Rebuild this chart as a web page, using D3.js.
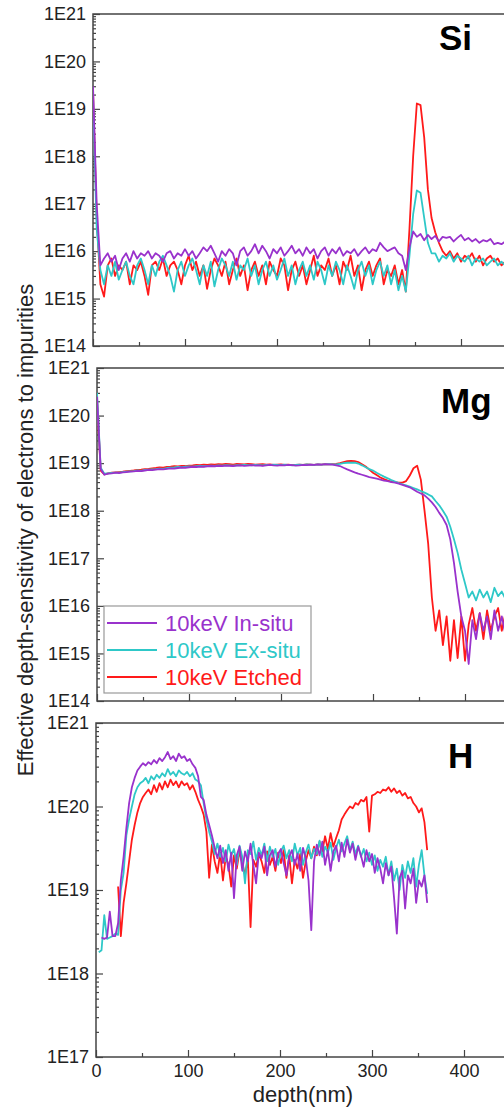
<!DOCTYPE html>
<html>
<head>
<meta charset="utf-8">
<script src="https://cdn.jsdelivr.net/npm/d3@7"></script>
<style>
body{margin:0;background:#fff;overflow:hidden}
svg{display:block;font-family:"Liberation Sans",Arial,sans-serif}
</style>
</head>
<body>
<div id="chart"></div>
<script>
// depth grid (nm) for the Si and Mg profiles
var depthSiMg = [0,4,8,12,16,20,24,28,32,36,
    40,44,48,52,56,60,64,68,72,76,
    80,84,88,92,96,100,104,108,112,116,
    120,124,128,132,136,140,144,148,152,156,
    160,164,168,172,176,180,184,188,192,196,
    200,204,208,212,216,220,224,228,232,236,
    240,244,248,252,256,260,264,268,272,276,
    280,284,288,292,296,300,304,308,312,316,
    320,324,328,332,336,340,344,348,352,356,
    360,364,368,372,376,380,384,388,392,396,
    400,404,408,412,416,420,424,428,432,436,
    440,444,448];

// depth grid (nm) for the H profiles
var depthH = [0,3,6,9,12,15,18,21,24,27,
    30,33,36,39,42,45,48,51,54,57,
    60,63,66,69,72,75,78,81,84,87,
    90,93,96,99,102,105,108,111,114,117,
    120,123,126,129,132,135,138,141,144,147,
    150,153,156,159,162,165,168,171,174,177,
    180,183,186,189,192,195,198,201,204,207,
    210,213,216,219,222,225,228,231,234,237,
    240,243,246,249,252,255,258,261,264,267,
    270,273,276,279,282,285,288,291,294,297,
    300,303,306,309,312,315,318,321,324,327,
    330,333,336,339,342,345,348,351,354,357,
    360];

var siInsitu = [3e19,1e17,5e15,7e15,9e15,6e15,8e15,4e15,7e15,9e15,
    6e15,1e16,7e15,9e15,8e15,1e16,7e15,9e15,8e15,6e15,
    9e15,1e16,7e15,9e15,8e15,1.1e16,8e15,1e16,7e15,9e15,
    1.2e16,1e16,1.3e16,9e15,6e15,1e16,8e15,1.1e16,9e15,5e15,
    1e16,1.2e16,8e15,1e16,1.4e16,9e15,1.3e16,1e16,7e15,1.1e16,
    9e15,1.2e16,8e15,1e16,1.3e16,9e15,1.1e16,8e15,1.2e16,9e15,
    1.1e16,7e15,1e16,1.2e16,8e15,1.1e16,9e15,1.2e16,8e15,1e16,
    9e15,1.1e16,8e15,1e16,1.2e16,9e15,1.1e16,1e16,1.5e16,1.2e16,
    1e16,1.1e16,1.2e16,9e15,8e15,4e15,1.2e16,2.6e16,2e16,2.3e16,
    1.7e16,2.2e16,1.8e16,2.1e16,1.6e16,2e16,1.9e16,2e16,1.6e16,1.9e16,
    2.2e16,1.7e16,1.9e16,1.6e16,1.8e16,1.5e16,1.7e16,1.6e16,1.8e16,1.4e16,
    1.5e16,1.4e16,1.6e16];
var siExsitu = [2e19,3e16,4e15,2e15,5e15,3e15,6e15,2.5e15,4e15,6e15,
    3e15,2e15,5e15,7e15,4e15,2e15,5e15,3e15,6e15,8e15,
    5e15,3e15,1.4e15,4e15,6e15,3e15,5e15,7e15,4e15,2e15,
    5e15,3e15,6e15,1.8e15,4e15,7e15,5e15,3e15,6e15,2.5e15,
    5e15,4e15,7e15,3e15,5e15,2e15,4e15,6e15,3e15,5e15,
    2.5e15,4e15,7e15,3e15,5e15,2e15,4e15,6e15,3e15,5e15,
    2.5e15,6e15,4e15,2e15,5e15,3e15,6e15,4e15,2e15,5e15,
    3e15,1.6e15,4e15,6e15,3e15,5e15,2e15,4e15,6e15,3e15,
    5e15,2e15,4e15,1.5e15,3e15,1.4e15,8e15,6e16,1.9e17,1.7e17,
    5e16,1.5e16,9e15,9e15,6e15,8e15,7e15,9e15,6e15,8e15,
    7e15,6e15,8e15,5e15,7e15,6e15,7e15,5e15,6e15,7e15,
    5e15,6e15,5e15];
var siEtched = [2.5e19,5e16,2e15,1.1e15,5e15,7e15,3e15,5e15,4e15,6e15,
    2e15,5e15,4e15,6e15,3e15,1.2e15,5e15,6e15,4e15,7e15,
    3e15,5e15,6e15,4e15,2e15,5e15,8e15,4e15,6e15,3e15,
    5e15,1.6e15,4e15,7e15,5e15,3e15,6e15,2e15,4e15,7e15,
    3e15,5e15,1.5e15,4e15,6e15,3e15,5e15,2e15,6e15,4e15,
    3e15,7e15,5e15,1.5e15,4e15,6e15,3e15,5e15,2e15,4e15,
    8e15,3e15,5e15,4e15,7e15,3e15,5e15,2e15,6e15,4e15,
    8e15,3e15,5e15,1.5e15,4e15,6e15,3e15,5e15,7e15,2e15,
    4e15,3e15,5e15,2e15,4e15,1.4e15,3e16,1e18,1.3e19,1.2e19,
    2.5e18,2e17,5e16,2.5e16,1.5e16,1e16,8e15,1e16,7e15,9e15,
    6e15,8e15,7e15,9e15,6e15,8e15,5e15,7e15,8e15,6e15,
    7e15,5e15,6e15];

var mgInsitu = [2.5e20,7.5e18,5.7e18,6e18,6.1e18,6.3e18,6.2e18,6.4e18,6.5e18,6.6e18,
    6.7e18,6.9e18,6.8e18,7e18,7.2e18,7.1e18,7.3e18,7.5e18,7.4e18,7.6e18,
    7.8e18,7.7e18,7.9e18,8.1e18,8e18,8.2e18,8.4e18,8.3e18,8.5e18,8.4e18,
    8.6e18,8.7e18,8.6e18,8.8e18,8.7e18,8.9e18,8.8e18,8.7e18,8.9e18,9e18,
    8.8e18,8.9e18,9.1e18,8.9e18,9e18,8.8e18,9e18,9.2e18,9e18,8.9e18,
    9.1e18,9e18,9.2e18,9.1e18,8.9e18,9e18,9.2e18,9.1e18,9.3e18,9.2e18,
    9.4e18,9.3e18,9.5e18,9.4e18,9.3e18,9e18,8.7e18,8e18,7.4e18,6.9e18,
    6.4e18,6e18,5.7e18,5.4e18,5.1e18,4.9e18,4.7e18,4.5e18,4.3e18,4.2e18,
    4e18,3.9e18,3.7e18,3.5e18,3.3e18,3.1e18,2.8e18,2.5e18,2.3e18,2.1e18,
    1.8e18,1.5e18,1.2e18,9e17,7e17,5e17,2.5e17,8e16,2e16,6e15,
    3e15,6e14,5e15,2e15,7e15,3e15,6e15,2e15,8e15,3e15,
    6e15,2.5e15,7e15];
var mgExsitu = [3e20,8e18,6e18,6.1e18,6.2e18,6.3e18,6.3e18,6.5e18,6.6e18,6.7e18,
    6.8e18,7e18,6.9e18,7.2e18,7.3e18,7.4e18,7.5e18,7.7e18,7.6e18,7.9e18,
    8e18,8.1e18,8.3e18,8.2e18,8.4e18,8.5e18,8.4e18,8.6e18,8.7e18,8.6e18,
    8.8e18,8.9e18,8.8e18,9e18,8.9e18,9.1e18,9e18,8.9e18,9.1e18,9e18,
    9.2e18,9.1e18,9e18,9.2e18,9.1e18,9e18,9.2e18,9.1e18,9.3e18,9.2e18,
    9.1e18,9.3e18,9.2e18,9e18,9.2e18,9.3e18,9.2e18,9.4e18,9.3e18,9.2e18,
    9.4e18,9.3e18,9.4e18,9.5e18,9.4e18,9.4e18,9.7e18,1e19,1.02e19,1.03e19,
    1.02e19,9.8e18,9e18,8.2e18,7.5e18,7e18,6.3e18,5.7e18,5.2e18,4.8e18,
    4.4e18,4.1e18,3.8e18,3.6e18,3.4e18,3.2e18,3e18,2.8e18,2.6e18,2.4e18,
    2.2e18,2e18,1.6e18,1.3e18,1e18,7.5e17,4.6e17,2.5e17,1.3e17,5.8e16,
    3e16,1.5e16,2e16,1.3e16,2.2e16,1.5e16,2e16,1.2e16,2.4e16,1.6e16,
    2e16,1.4e16,2.2e16];
var mgEtched = [2.2e20,7e18,5.8e18,6.1e18,6.3e18,6.4e18,6.5e18,6.6e18,6.8e18,6.9e18,
    7e18,7.2e18,7.3e18,7.5e18,7.6e18,7.8e18,7.9e18,8.1e18,8e18,8.3e18,
    8.4e18,8.6e18,8.5e18,8.8e18,8.7e18,8.9e18,9e18,9.2e18,9.1e18,9.3e18,
    9.2e18,9.4e18,9.3e18,9.5e18,9.4e18,9.6e18,9.5e18,9.3e18,9.6e18,9.5e18,
    9.4e18,9.6e18,9.5e18,9.3e18,9.4e18,9.5e18,9.3e18,9.4e18,9.2e18,9.3e18,
    9.4e18,9.2e18,9.3e18,9.1e18,9.2e18,9.3e18,9.2e18,9.4e18,9.3e18,9.2e18,
    9.4e18,9.3e18,9.5e18,9.4e18,9.5e18,9.6e18,1e19,1.05e19,1.1e19,1.12e19,
    1.1e19,1.05e19,9.5e18,8.5e18,7.3e18,6.3e18,5.6e18,5e18,4.6e18,4.3e18,
    4.1e18,4e18,3.9e18,3.9e18,4.2e18,5.5e18,7.8e18,8.8e18,4.5e18,1e18,
    2e17,1.5e16,3e15,8e15,1.5e15,6e15,7e14,5e15,8e14,6e15,
    7e14,4e15,9e15,3e15,7e15,2e15,8e15,3e15,6e15,9e15,
    3e15,7e15,4e15];

var hInsitu = [null,null,2.7e18,2.6e18,2.7e18,5.5e18,2.8e18,2.8e18,4e18,1.3e19,
    2.5e19,5.5e19,1.1e20,1.7e20,2.2e20,2.7e20,3e20,3.3e20,3.1e20,3.4e20,
    3.2e20,3.6e20,3.3e20,3.8e20,3.5e20,3.9e20,4.5e20,3.7e20,4e20,3.5e20,
    4.3e20,3.8e20,4e20,3.5e20,3.7e20,3.2e20,2.9e20,2.3e20,1.3e20,1.2e20,
    8e19,6e19,4.5e19,3.2e19,2.4e19,3.4e19,2.1e19,3e19,1.7e19,2.8e19,
    8e18,2.6e19,3.3e19,1.7e19,2.9e19,2.2e19,3.6e19,2e19,1.2e19,2.8e19,
    2.4e19,3.3e19,1.5e19,2.6e19,3e19,1.9e19,2.7e19,3.1e19,2.1e19,1.5e19,
    2.5e19,3e19,2e19,2.7e19,1.7e19,3.2e19,2.4e19,1.3e19,3.3e18,2.2e19,
    3.5e19,2.6e19,3.8e19,2e19,3e19,1.7e19,2.9e19,3.4e19,2.2e19,3.7e19,
    2.5e19,4e19,2.8e19,3.6e19,2.3e19,3.3e19,2.6e19,1.9e19,3e19,2.2e19,
    2.7e19,1.6e19,2.4e19,1.8e19,1.2e19,2.1e19,1.5e19,1.9e19,8e18,3e18,
    1.4e19,1.7e19,6e18,1.5e19,1.2e19,1.8e19,7e18,1.3e19,1.1e19,1.5e19,
    7e18];
var hExsitu = [null,1.8e18,1.9e18,5e18,2.6e18,2.7e18,2.8e18,3e18,2.9e18,1e19,
    1.6e19,4.5e19,7e19,1e20,1.4e20,1.7e20,1.9e20,2e20,2.2e20,1.9e20,
    2.3e20,2.1e20,2.4e20,2.2e20,2.5e20,2.3e20,2.8e20,2.4e20,2.6e20,2.3e20,
    2.7e20,2.5e20,2.4e20,2.6e20,2.3e20,2.5e20,2.1e20,2e20,1.8e20,1.1e20,
    7e19,5e19,3.8e19,2.7e19,3.6e19,2.5e19,3.2e19,2.2e19,3.5e19,2.6e19,
    3.1e19,2e19,3.4e19,2.5e19,1.2e19,3e19,2.7e19,3.8e19,2.3e19,3.2e19,
    2.6e19,3.6e19,2.2e19,3.3e19,2.5e19,3.1e19,2e19,2.9e19,3.4e19,2.4e19,
    3e19,2.2e19,3.6e19,2.6e19,3.2e19,2e19,2.8e19,3.5e19,2.4e19,3.1e19,
    2.7e19,3.9e19,2.5e19,3.3e19,2.8e19,3.7e19,2.3e19,3.2e19,4e19,2.9e19,
    3.6e19,4.4e19,3e19,3.8e19,2.7e19,3.4e19,2.5e19,3.1e19,2.2e19,2.8e19,
    2e19,2.6e19,1.7e19,2.3e19,1.9e19,2.5e19,1.5e19,2.2e19,1.3e19,1.8e19,
    1e19,2e19,1.4e19,2.2e19,1.6e19,2.4e19,1.1e19,2e19,3e19,1.5e19,
    9e18];
var hEtched = [null,null,null,null,null,null,null,null,1.1e19,2.8e18,
    7e18,1.2e19,2.2e19,4e19,6e19,8.5e19,1.1e20,1.3e20,1.45e20,1.6e20,
    1.4e20,1.8e20,1.5e20,1.9e20,1.6e20,2e20,1.7e20,2.1e20,1.8e20,2e20,
    1.7e20,2e20,1.8e20,1.9e20,1.6e20,1.8e20,1.5e20,1.2e20,1e20,8e19,
    5e19,1.4e19,3.5e19,2.2e19,1.6e19,2.8e19,1.3e19,2.5e19,2e19,1.1e19,
    2.6e19,1.8e19,2.9e19,2.1e19,1.5e19,2.4e19,3.6e18,2.3e19,1.9e19,2.7e19,
    2.2e19,1.6e19,2.9e19,2e19,2.5e19,1.7e19,2.8e19,2.1e19,3e19,1.4e19,
    2.6e19,1.2e19,2.3e19,1.8e19,2.7e19,1.4e19,2.2e19,3e19,2.4e19,3.3e19,
    2.6e19,3.8e19,2.9e19,4.4e19,3.1e19,4.8e19,3.3e19,4.2e19,5.2e19,7e19,
    8e19,9e19,1e20,9.5e19,1.1e20,1.05e20,1.2e20,1.15e20,1.3e20,5e19,
    1.35e20,1.4e20,1.5e20,1.45e20,1.6e20,1.55e20,1.7e20,1.5e20,1.65e20,1.45e20,
    1.55e20,1.35e20,1.45e20,1.25e20,1.3e20,1.1e20,1e20,8.5e19,9.5e19,6.5e19,
    3e19];

var seriesNames = ["10keV In-situ", "10keV Ex-situ", "10keV Etched"];
var seriesColors = ["#9932cc", "#2ec8c8", "#ff1a1a"];
var panelNames = ["Si", "Mg", "H"];
var xTicks = [0, 100, 200, 300, 400];
var xMinorTicks = [50, 150, 250, 350, 450];

function init(){
    var w = 504;
    var h = 1107;
    var plotW = 414; // 0..450 nm

    // layout of the three stacked panels
    var panels = [
        {name: panelNames[0], x0: 93, top: 14, bottom: 346, yDomain: [1e14, 1e21],
         depth: depthSiMg, series: [siInsitu, siExsitu, siEtched], tx: 439, ty: 50},
        {name: panelNames[1], x0: 97, top: 368, bottom: 701, yDomain: [1e14, 1e21],
         depth: depthSiMg, series: [mgInsitu, mgExsitu, mgEtched], tx: 441, ty: 413},
        {name: panelNames[2], x0: 96, top: 723, bottom: 1057, yDomain: [1e17, 1e21],
         depth: depthH, series: [hInsitu, hExsitu, hEtched], tx: 448, ty: 768}
    ];

    var svg = d3.select('#chart')
                .append('svg')
                .attr('width', w)
                .attr('height', h);

    panels.forEach(function(p, pi){
        var xScale = d3.scaleLinear()
                        .domain([0, 450])
                        .range([p.x0, p.x0 + plotW]);
        var yScale = d3.scaleLog()
                        .domain(p.yDomain)
                        .range([p.bottom, p.top]);

        var g = svg.append('g');

        // clip lines to the frame
        g.append('clipPath')
            .attr('id', 'clip' + pi)
            .append('rect')
            .attr('x', p.x0)
            .attr('y', p.top)
            .attr('width', plotW)
            .attr('height', p.bottom - p.top);

        // major decades and minor 2..9 ticks
        var e0 = Math.round(Math.log10(p.yDomain[0]));
        var e1 = Math.round(Math.log10(p.yDomain[1]));
        var majors = [];
        var minors = [];
        for (var e = e0; e <= e1; e++){
            majors.push(Math.pow(10, e));
            if (e < e1){
                for (var m = 2; m < 10; m++) minors.push(m * Math.pow(10, e));
            }
        }

        g.append('g')
            .attr('transform', 'translate(' + p.x0 + ',0)')
            .call(d3.axisLeft(yScale).tickValues(minors).tickSize(-3).tickFormat(''))
            .call(function(a){ a.select('.domain').remove(); });

        g.append('g')
            .attr('class', 'yaxis')
            .attr('transform', 'translate(' + p.x0 + ',0)')
            .call(d3.axisLeft(yScale).tickValues(majors).tickSize(-7).tickPadding(7)
                .tickFormat(function(d){ return '1E' + Math.round(Math.log10(d)); }))
            .call(function(a){ a.select('.domain').remove(); });

        g.append('g')
            .attr('transform', 'translate(0,' + p.bottom + ')')
            .call(d3.axisBottom(xScale).tickValues(xMinorTicks).tickSize(-4).tickFormat(''))
            .call(function(a){ a.select('.domain').remove(); });

        g.append('g')
            .attr('class', 'xaxis')
            .attr('transform', 'translate(0,' + p.bottom + ')')
            .call(d3.axisBottom(xScale).tickValues(xTicks).tickSize(-7).tickPadding(7)
                .tickFormat(pi === 2 ? d3.format('d') : ''))
            .call(function(a){ a.select('.domain').remove(); });

        g.selectAll('.tick line')
            .attr('stroke', '#444')
            .attr('stroke-width', 1.2);
        g.selectAll('.tick text')
            .attr('fill', '#222')
            .style('font-size', '18px');

        // frame
        g.append('rect')
            .attr('x', p.x0)
            .attr('y', p.top)
            .attr('width', plotW)
            .attr('height', p.bottom - p.top)
            .attr('fill', 'none')
            .attr('stroke', '#444')
            .attr('stroke-width', 1.5);

        var line = d3.line()
                    .defined(function(d){ return d.v != null; })
                    .x(function(d){ return xScale(d.d); })
                    .y(function(d){ return yScale(d.v); });

        // etched first, in-situ on top
        [2, 1, 0].forEach(function(si){
            var pts = p.depth.map(function(d, i){
                return {d: d, v: p.series[si][i]};
            });
            g.append('path')
                .datum(pts)
                .attr('clip-path', 'url(#clip' + pi + ')')
                .attr('fill', 'none')
                .attr('stroke', seriesColors[si])
                .attr('stroke-width', 1.8)
                .attr('stroke-linejoin', 'round')
                .attr('d', line);
        });

        // element name
        g.append('text')
            .attr('x', p.tx)
            .attr('y', p.ty)
            .attr('fill', '#000')
            .style('font-size', '35px')
            .style('font-weight', 'bold')
            .text(p.name);

        // legend sits in the Mg panel
        if (pi === 1){
            var lg = g.append('g');
            lg.append('rect')
                .attr('x', 104)
                .attr('y', 606)
                .attr('width', 207)
                .attr('height', 87)
                .attr('fill', '#fff')
                .attr('stroke', '#999')
                .attr('stroke-width', 1.2);
            seriesNames.forEach(function(name, i){
                var ly = 623 + i * 27;
                lg.append('line')
                    .attr('x1', 107)
                    .attr('x2', 157)
                    .attr('y1', ly)
                    .attr('y2', ly)
                    .attr('stroke', seriesColors[i])
                    .attr('stroke-width', 1.8);
                lg.append('text')
                    .attr('x', 165)
                    .attr('y', ly)
                    .attr('dy', '0.36em')
                    .attr('fill', seriesColors[i])
                    .style('font-size', '22px')
                    .text(name);
            });
        }
    });

    // axis titles
    svg.append('text')
        .attr('transform', 'translate(33,530) rotate(-90)')
        .attr('text-anchor', 'middle')
        .attr('fill', '#222')
        .style('font-size', '22px')
        .text('Effective depth-sensitivity of electrons to impurities');

    svg.append('text')
        .attr('x', 303)
        .attr('y', 1102)
        .attr('text-anchor', 'middle')
        .attr('fill', '#222')
        .style('font-size', '22px')
        .text('depth(nm)');
}

window.onload = init;
</script>
</body>
</html>
